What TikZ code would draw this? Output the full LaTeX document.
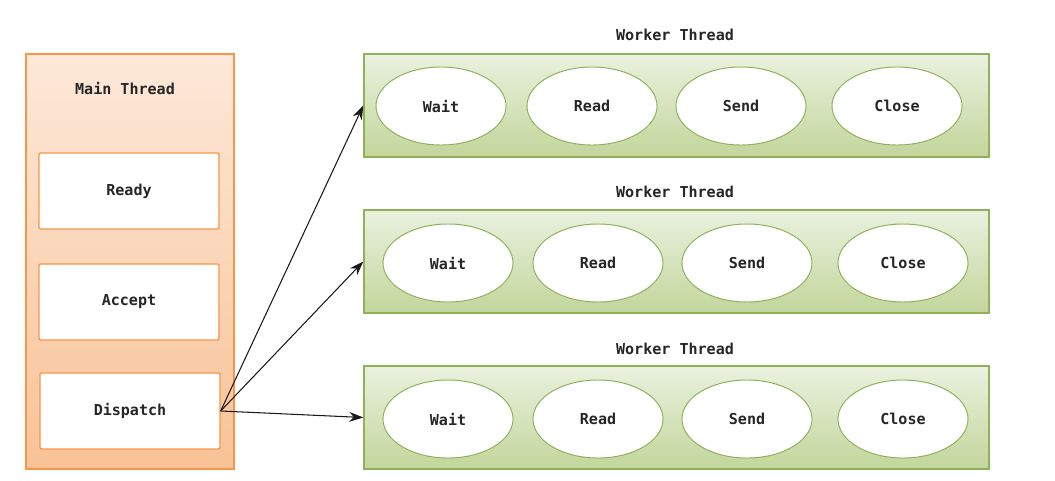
\documentclass[tikz,border=0pt]{standalone}
\usepackage{fontspec}
\setmonofont{DejaVu Sans Mono}
\usetikzlibrary{arrows.meta,shapes.geometric}

\definecolor{orangeline}{HTML}{F79646}
\definecolor{orangetop}{HTML}{FDE9DA}
\definecolor{orangebot}{HTML}{F9C296}
\definecolor{greenline}{HTML}{8FB15A}
\definecolor{greentop}{HTML}{EAF1DF}
\definecolor{greenbot}{HTML}{C2D69B}

\tikzset{
  txt/.style={font=\fontsize{10.7}{13}\selectfont\ttfamily\bfseries, text=black!85},
  mainbox/.style={draw=orangeline, line width=0.9pt, top color=orangetop, bottom color=orangebot, minimum width=5.2cm, minimum height=10.375cm},
  stepbox/.style={draw=orangeline, line width=0.9pt, fill=white, rounded corners=1pt, minimum width=4.5cm, minimum height=1.9cm, txt},
  workerbox/.style={draw=greenline, line width=0.9pt, top color=greentop, bottom color=greenbot, minimum width=15.625cm, minimum height=2.575cm},
  stateoval/.style={draw=greenline, line width=0.7pt, fill=white, ellipse, inner sep=0pt, minimum width=3.25cm, minimum height=1.95cm, txt},
  link/.style={-{Stealth[length=10pt,width=7pt]}, line width=0.75pt, black!90}
}

\begin{document}
\begin{tikzpicture}[x=0.025cm, y=-0.025cm]
        \useasboundingbox (0,0) rectangle (1055,481);

        % Main thread with its steps
        \node[mainbox] (mainthread) at (130,261.5) {};
        \node[txt] (maintitle) at (125,88) {Main Thread};
        \node[stepbox] (ready) at (129,191) {Ready};
        \node[stepbox] (accept) at (129,302) {Accept};
        \node[stepbox] (dispatch) at (130,411) {Dispatch};

        % Worker threads
        \node[txt] (title1) at (675,35) {Worker Thread};
        \node[workerbox] (worker1) at (676.5,105.5) {};
        \node[stateoval] (wait1) at (441,106) {Wait};
        \node[stateoval] (read1) at (592,106) {Read};
        \node[stateoval] (send1) at (741,106) {Send};
        \node[stateoval] (close1) at (897,106) {Close};

        \node[txt] (title2) at (675,192) {Worker Thread};
        \node[workerbox] (worker2) at (676.5,261.5) {};
        \node[stateoval] (wait2) at (448,263) {Wait};
        \node[stateoval] (read2) at (598,263) {Read};
        \node[stateoval] (send2) at (747,263) {Send};
        \node[stateoval] (close2) at (903,263) {Close};

        \node[txt] (title3) at (675,349) {Worker Thread};
        \node[workerbox] (worker3) at (676.5,417.5) {};
        \node[stateoval] (wait3) at (448,419) {Wait};
        \node[stateoval] (read3) at (598,419) {Read};
        \node[stateoval] (send3) at (747,419) {Send};
        \node[stateoval] (close3) at (903,419) {Close};

        % Dispatch to workers
        \draw[link] (dispatch.east) -- (worker1.west);
        \draw[link] (dispatch.east) -- (worker2.west);
        \draw[link] (dispatch.east) -- (worker3.west);
    \end{tikzpicture}
\end{document}
